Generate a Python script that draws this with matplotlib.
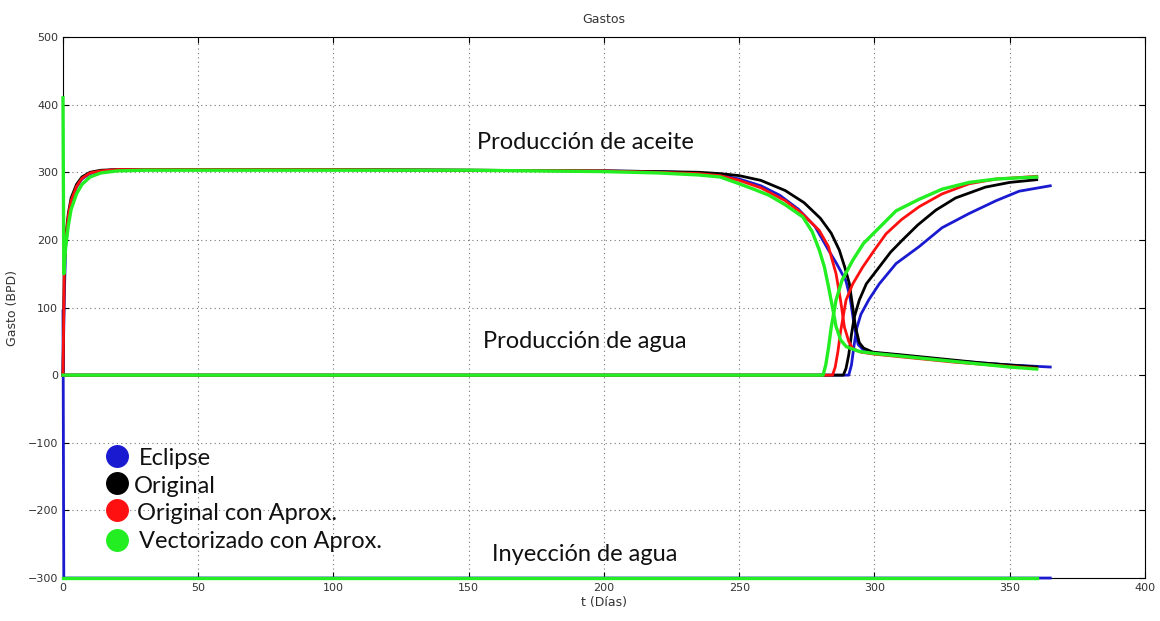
import matplotlib.pyplot as plt

# tiempo (dias) y gastos (BPD) por modelo
# --- produccion de aceite ---
oil_t_eclipse = [0, 0.5, 1, 2, 3, 5, 7, 10, 14, 20, 30, 100, 150, 200, 220, 235, 243, 250, 258, 265,
                 272, 278, 283, 286, 289.4, 291, 292.6, 294, 296, 300, 310, 320, 330, 340, 350, 360, 365]
oil_q_eclipse = [0, 120, 190, 232, 256, 278, 290, 298, 302, 304, 304, 304, 303, 302, 301, 299, 296, 290, 280, 266,
                 245, 220, 185, 165, 140, 115, 71, 45, 37, 33, 29, 25, 21, 18, 15, 13, 12]

oil_t_original = [0, 0.5, 1, 2, 3, 5, 7, 10, 14, 20, 30, 100, 150, 200, 220, 235, 243, 250, 258, 267,
                  274, 280, 284, 287, 289, 290.7, 292, 293, 294.4, 296, 299.4, 310, 320, 330, 340, 350, 360]
oil_q_original = [0, 170, 205, 240, 262, 282, 293, 300, 303, 304, 304, 304, 303, 302, 301, 300, 298, 295, 288, 273,
                  255, 232, 210, 185, 160, 136, 100, 71, 48, 40, 34, 30, 26, 22, 18, 15, 12]

oil_t_aprox = [0, 0.5, 1, 2, 3, 5, 7, 10, 14, 20, 30, 100, 150, 200, 220, 235, 243, 250, 258, 267,
               273, 279.6, 283, 285.8, 287.5, 288.9, 290.5, 292, 295, 300, 310, 320, 330, 340, 350, 360]
oil_q_aprox = [0, 160, 200, 236, 258, 279, 291, 299, 302, 304, 304, 304, 303, 302, 300, 298, 295, 288, 277, 258,
               240, 214, 190, 150, 110, 71, 50, 39, 34, 31, 27, 23, 19, 16, 13, 10]

oil_t_vect = [0, 0.3, 1, 2, 3, 5, 7, 10, 14, 20, 30, 100, 150, 200, 220, 235, 243, 250, 256, 261, 267,
              273.5, 277, 279.6, 281.5, 283, 284.5, 285.8, 287.5, 289.6, 294.4, 300, 310, 320, 330, 340, 350, 360]
oil_q_vect = [410, 150, 190, 222, 245, 268, 282, 293, 299, 302, 303, 303, 303, 301, 299, 296, 293, 283, 274, 266, 252,
              234, 212, 185, 160, 131, 100, 72, 52, 42, 35, 32, 28, 24, 20, 16, 12, 9]

# --- produccion de agua ---
wat_t_eclipse = [0, 290.5, 291.5, 292.5, 293.5, 295, 298, 301.8, 308, 316.5, 325, 335, 345, 353.5, 365]
wat_q_eclipse = [0, 0, 15, 45, 70, 90, 112, 135, 165, 190, 218, 239, 258, 272, 280]

wat_t_original = [0, 288.5, 289.5, 290.5, 291.5, 292.5, 294.4, 297, 301.8, 306, 310.4, 316, 322.7, 330, 341, 350, 360]
wat_q_original = [0, 0, 10, 30, 60, 85, 111, 135, 160, 182, 200, 222, 244, 262, 278, 285, 289]

wat_t_aprox = [0, 284.5, 285.5, 286.5, 287.5, 289.5, 292, 295.7, 300, 304.3, 310, 316.5, 325, 335, 345, 360]
wat_q_aprox = [0, 0, 12, 35, 65, 111, 135, 160, 185, 209, 230, 249, 268, 283, 290, 294]

wat_t_vect = [0, 281, 282, 283, 284, 285.8, 288, 292, 296, 302, 308, 316.5, 325, 335, 345, 360]
wat_q_vect = [0, 0, 15, 40, 70, 111, 140, 170, 195, 219, 243, 260, 275, 285, 290, 293]

# --- inyeccion de agua ---
iny_t_eclipse = [0, 0.3, 365]
iny_q_eclipse = [95, -300, -300]
iny_t_other = [0, 360]
iny_q_other = [-300, -300]

LABELS = ["Eclipse", "Original", "Original con Aprox.", "Vectorizado con Aprox."]
COLORS = ["#1a1ad0", "#000000", "#ff1010", "#22ee22"]

fig = plt.figure(figsize=(11.6, 6.21), dpi=100)
ax = fig.add_axes([0.0543, 0.0692, 0.9327, 0.8712])

series = [
    (oil_t_eclipse, oil_q_eclipse, wat_t_eclipse, wat_q_eclipse, iny_t_eclipse, iny_q_eclipse),
    (oil_t_original, oil_q_original, wat_t_original, wat_q_original, iny_t_other, iny_q_other),
    (oil_t_aprox, oil_q_aprox, wat_t_aprox, wat_q_aprox, iny_t_other, iny_q_other),
    (oil_t_vect, oil_q_vect, wat_t_vect, wat_q_vect, iny_t_other, iny_q_other),
]
for (ot, oq, wt, wq, it, iq), color in zip(series, COLORS):
    lw = 2.4 if color == COLORS[3] else 2.0
    kw = dict(color=color, lw=lw, solid_joinstyle="round", clip_on=False, zorder=3)
    ax.plot(ot, oq, **kw)
    ax.plot(wt, wq, **kw)
    ax.plot(it, iq, **kw)

ax.set_xlim(0, 400)
ax.set_ylim(-300, 500)
ax.set_xticks(range(0, 401, 50))
ax.set_yticks(range(-300, 501, 100))
ax.grid(True, linestyle=(0, (1, 3)), color="#777777", linewidth=0.8)
ax.tick_params(direction="in", length=4, top=True, right=True, labelsize=8, labelcolor="#333333")
for sp in ax.spines.values():
    sp.set_linewidth(0.8)

ax.set_title("Gastos", fontsize=9, color="#333333", pad=10)
ax.set_xlabel("t (Días)", fontsize=9, color="#333333", labelpad=2)
ax.set_ylabel("Gasto (BPD)", fontsize=9, color="#333333", labelpad=6)

note_font = dict(family="Lato", fontsize=17, color="#111111", ha="center", va="baseline")
ax.text(193, 335, "Producción de aceite", **note_font)
ax.text(193, 40, "Producción de agua", **note_font)
ax.text(193, -275, "Inyección de agua", **note_font)

# leyenda con circulos
dot_y = [0.2255, 0.1756, 0.1257, 0.0702]
txt_y = [0.2089, 0.157, 0.1072, 0.0555]
txt_x = [0.0702, 0.0656, 0.0684, 0.0702]
for label, color, dy, ty, tx in zip(LABELS, COLORS, dot_y, txt_y, txt_x):
    ax.plot(0.0499, dy, "o", ms=15.5, color=color, transform=ax.transAxes, clip_on=False, zorder=4)
    ax.text(tx, ty, label, transform=ax.transAxes, family="Lato", fontsize=17,
            color="#111111", ha="left", va="baseline")

fig.savefig("out.png", dpi=100)
